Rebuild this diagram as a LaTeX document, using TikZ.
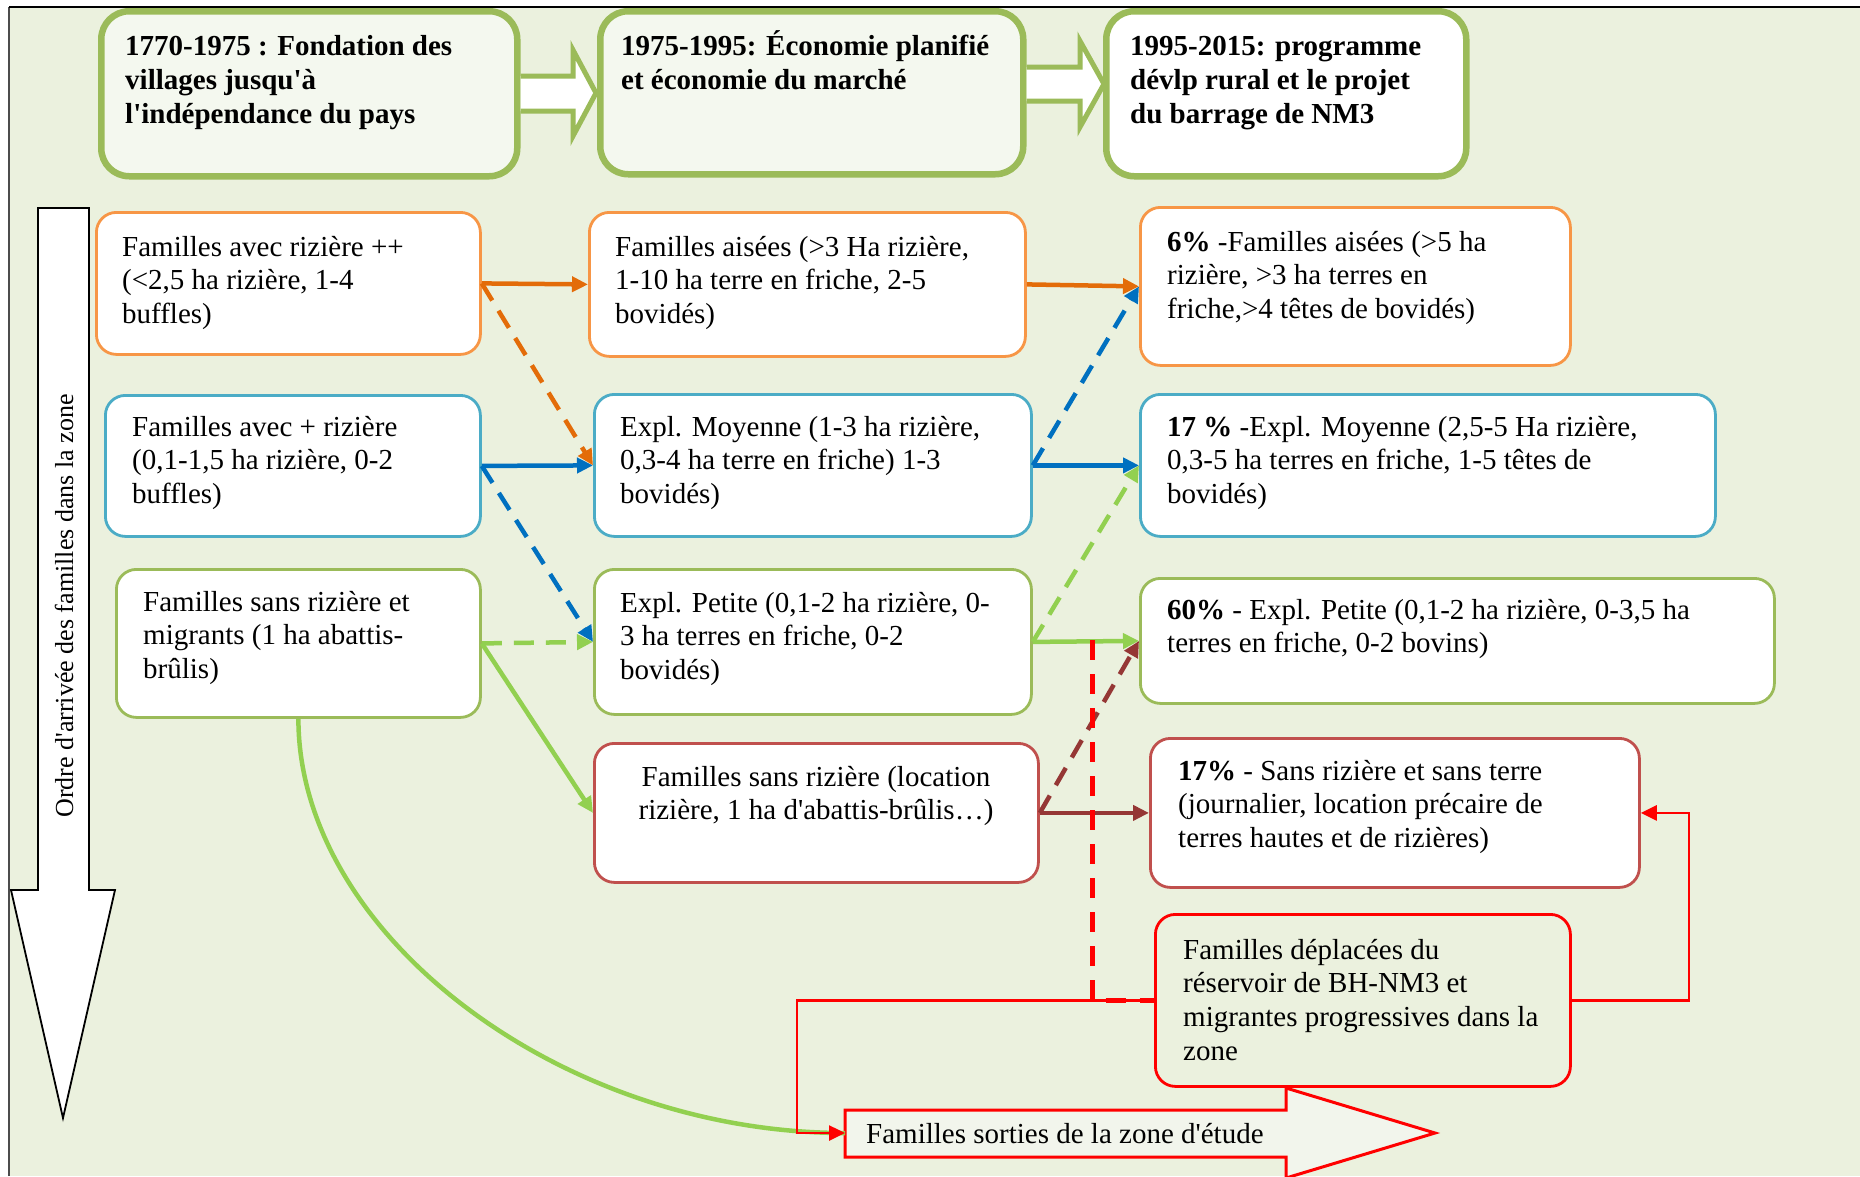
\documentclass[tikz,border=0pt]{standalone}
\usepackage{fontspec}
\setmainfont{Liberation Serif}
\usetikzlibrary{arrows.meta}
\definecolor{bg}{HTML}{EBF1DE}
\definecolor{gbox}{HTML}{9BBB59}
\definecolor{obox}{HTML}{F79646}
\definecolor{bbox}{HTML}{4BACC6}
\definecolor{rbox}{HTML}{C0504D}
\definecolor{oarr}{HTML}{E36C09}
\definecolor{barr}{HTML}{0070C0}
\definecolor{garr}{HTML}{92D050}
\definecolor{brarr}{HTML}{953735}
\definecolor{redline}{HTML}{FF0000}
\definecolor{tfill}{HTML}{F4F8EF}
\definecolor{efill}{HTML}{F2F5EC}
\newcommand\bodyfont{\fontsize{29}{33.6}\selectfont}
\newcommand\titlefont{\fontsize{29}{34}\selectfont\bfseries}
\newcommand\tstrut{\rule{0pt}{28pt}}
\newcommand\ap{\textquotesingle}
\begin{document}
\begin{tikzpicture}[x=1pt,y=-1pt,
  box/.style={draw, line width=2.8pt, rounded corners=20pt, fill=white, inner sep=0pt, anchor=north west},
  tbox/.style={draw=gbox, line width=6.5pt, rounded corners=28pt, inner sep=0pt, anchor=north west},
  txt/.style={anchor=north west, align=left, inner sep=0pt, font=\bodyfont},
  ttxt/.style={anchor=north west, align=left, inner sep=0pt, font=\titlefont},
  arr/.style={line width=4.5pt, -{Triangle[length=16pt,width=15pt]}},
  plain/.style={line width=4.5pt},
  dsh/.style={dash pattern=on 20pt off 12pt},
  redthin/.style={draw=redline, line width=2.6pt},
  blk/.style={line width=5pt, draw=gbox, fill=white, line join=miter}
]
\useasboundingbox (0,0) rectangle (1860,1176);
% background
\fill[bg] (9,7) rectangle (1860,1176);
\draw[black!70, line width=1.6pt] (9,1176) -- (9,7);
\draw[black, line width=1.6pt] (9,7) -- (1860,7);

% left vertical arrow
\draw[black, line width=1.8pt, fill=white, line join=miter]
  (38,208) -- (89,208) -- (89,890) -- (115,890) -- (63,1118) -- (11,890) -- (38,890) -- cycle;
\node[rotate=90, inner sep=0pt, font=\fontsize{26}{30}\selectfont] (ord) at (64,606)
  {Ordre d\ap arrivée des familles dans la zone};

% title boxes
\node[tbox, fill=tfill, minimum width=416, minimum height=165] (T1) at (98,8) {};
\node[tbox, fill=tfill, minimum width=423, minimum height=163] (T2) at (597,8) {};
\node[tbox, fill=white, minimum width=360, minimum height=165] (T3) at (1103,8) {};
\draw[blk] (T1.east |- 0,76) -- (573,76) -- (573,50) -- (596,93) -- (573,136) -- (573,111) -- (T1.east |- 0,111);
\draw[blk] (T2.east |- 0,67) -- (1080,67) -- (1080,41) -- (1104,84) -- (1080,127) -- (1080,101) -- (T2.east |- 0,101);

% column A
\node[box, draw=obox, minimum width=384, minimum height=142] (A1) at (95,211) {};
\node[box, draw=bbox, minimum width=375, minimum height=141] (A2) at (104,394) {};
\node[box, draw=gbox, minimum width=364, minimum height=148] (A3) at (115,568) {};
% column B
\node[box, draw=obox, minimum width=436, minimum height=144] (B1) at (588,211) {};
\node[box, draw=bbox, minimum width=437, minimum height=142] (B2) at (593,393) {};
\node[box, draw=gbox, minimum width=437, minimum height=145] (B3) at (593,568) {};
\node[box, draw=rbox, minimum width=444, minimum height=139] (B4) at (593,742) {};
% column C
\node[box, draw=obox, minimum width=430, minimum height=158] (C1) at (1139,206) {};
\node[box, draw=bbox, minimum width=575, minimum height=142] (C2) at (1139,393) {};
\node[box, draw=gbox, minimum width=634, minimum height=125] (C3) at (1139,577) {};
\node[box, draw=rbox, minimum width=489, minimum height=149] (C4) at (1149,737) {};
\node[box, draw=redline, fill=bg, minimum width=415, minimum height=172] (D) at (1154,913) {};

% exit block arrow
\draw[draw=redline, fill=efill, line width=3pt, line join=miter]
  (845,1110) -- (1286,1110) -- (1286,1088) -- (1435,1133) -- (1286,1178) -- (1286,1157) -- (845,1157) -- cycle;
\coordinate (Ein) at (845,1133);
\coordinate (rtop) at (1092,640);

% connectors A -> B
\draw[oarr, arr] (A1.east) -- (B1.west);
\draw[oarr, arr, dsh] (A1.east) -- (B2.west);
\draw[barr, arr] (A2.east) -- (B2.west);
\draw[barr, arr, dsh] (A2.east) -- (B3.west);
\draw[garr, arr, dsh] (A3.east) -- (B3.west);
\draw[garr, arr] (A3.east) -- (B4.west);
\draw[garr, plain] (A3.south) .. controls +(0,215) and +(-285,0) .. (Ein);

% connectors B -> C
\draw[oarr, arr] (B1.east) -- (C1.west);
\draw[barr, arr, dsh] (B2.east) -- (C1.west);
\draw[barr, arr] (B2.east) -- (C2.west);
\draw[garr, arr, dsh] (B3.east) -- (C2.west);
\draw[garr, arr] (B3.east) -- (C3.west);
\draw[brarr, arr, dsh] (B4.east) -- (C3.west);
\draw[brarr, arr] (B4.east) -- (C4.west);

% red connectors
\draw[redline, line width=5pt, dash pattern=on 20pt off 14pt] (rtop) |- (D.west);
\draw[redthin, -{Triangle[length=16pt,width=15pt]}] (D.west) -- ++(-357,0) |- (Ein);
\draw[redthin, -{Triangle[length=16pt,width=15pt]}] (D.east) -- ++(117,0) |- (C4.east);

% texts
\node[ttxt] (t1) at (125,55-28) {\tstrut 1770-1975 : Fondation des\\villages jusqu\ap à\\l\ap indépendance du pays};
\node[ttxt] (t2) at (621,55-28) {\tstrut 1975-1995: Économie planifié\\et économie du marché};
\node[ttxt] (t3) at (1130,55-28) {\tstrut 1995-2015: programme\\dévlp rural et le projet\\du barrage de NM3};

\node[txt] (a1) at (122,256-28) {\tstrut Familles avec rizière ++\\(<2,5 ha rizière, 1-4\\buffles)};
\node[txt] (a2) at (132,436-28) {\tstrut Familles avec + rizière\\(0,1-1,5 ha rizière, 0-2\\buffles)};
\node[txt] (a3) at (143,611-28) {\tstrut Familles sans rizière et\\migrants (1 ha abattis-\\brûlis)};

\node[txt] (b1) at (615,256-28) {\tstrut Familles aisées (>3 Ha rizière,\\1-10 ha terre en friche, 2-5\\bovidés)};
\node[txt] (b2) at (620,436-28) {\tstrut Expl. Moyenne (1-3 ha rizière,\\0,3-4 ha terre en friche) 1-3\\bovidés)};
\node[txt] (b3) at (620,612-28) {\tstrut Expl. Petite (0,1-2 ha rizière, 0-\\3 ha terres en friche, 0-2\\bovidés)};
\node[txt, anchor=north, align=center] (b4) at (816,786-28) {\tstrut Familles sans rizière (location\\rizière, 1 ha d\ap abattis-brûlis…)};

\node[txt] (c1) at (1167,251-28) {\tstrut\textbf{6\%} -Familles aisées (>5 ha\\rizière, >3 ha terres en\\friche,>4 têtes de bovidés)};
\node[txt] (c2) at (1167,436-28) {\tstrut\textbf{17 \%} -Expl. Moyenne (2,5-5 Ha rizière,\\0,3-5 ha terres en friche, 1-5 têtes de\\bovidés)};
\node[txt] (c3) at (1167,619-28) {\tstrut\textbf{60\%} - Expl. Petite (0,1-2 ha rizière, 0-3,5 ha\\terres en friche, 0-2 bovins)};
\node[txt] (c4) at (1178,780-28) {\tstrut\textbf{17\%} - Sans rizière et sans terre\\(journalier, location précaire de\\terres hautes et de rizières)};
\node[txt] (d) at (1183,959-28) {\tstrut Familles déplacées du\\réservoir de BH-NM3 et\\migrantes progressives dans la\\zone};
\node[txt] (e) at (866,1143-28) {\tstrut Familles sorties de la zone d\ap étude};
\end{tikzpicture}
\end{document}
